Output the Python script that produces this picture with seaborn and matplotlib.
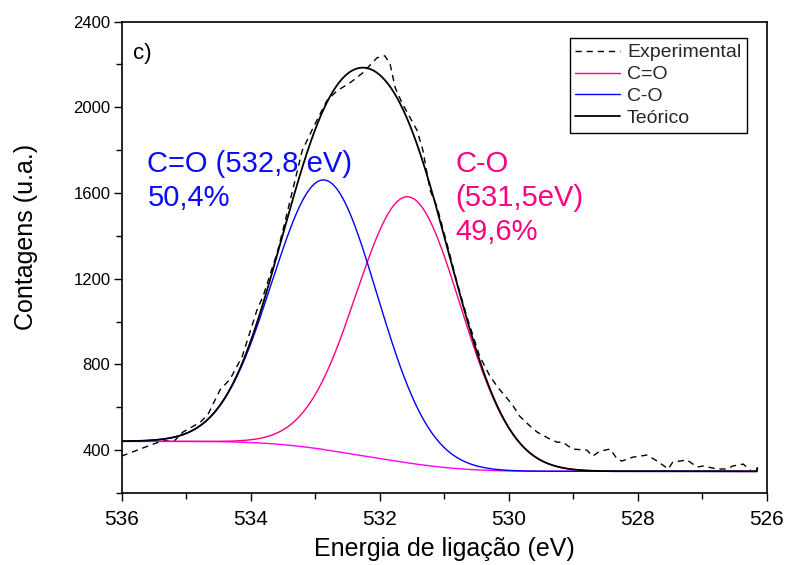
import numpy as np
import pandas as pd
import matplotlib
matplotlib.use("Agg")
import matplotlib.pyplot as plt
import seaborn as sns
from matplotlib.ticker import MultipleLocator

# Measured O 1s spectrum: binding energy (eV) and counts
exp_energy = [536.00, 535.51, 535.33, 535.20, 535.05, 534.78, 534.66, 534.47, 534.32,
              534.13, 533.90, 533.81, 533.59, 533.51, 533.20, 533.03, 532.82, 532.66,
              532.46, 532.26, 532.04, 531.92, 531.84, 531.76, 531.65, 531.53, 531.42,
              531.33, 531.22, 531.11, 530.96, 530.80, 530.65, 530.45, 530.29, 530.17,
              529.95, 529.83, 529.67, 529.56, 529.36, 529.25, 529.16, 529.08, 529.01,
              528.79, 528.70, 528.59, 528.43, 528.32, 528.25, 528.08, 527.86, 527.70,
              527.53, 527.46, 527.24, 527.08, 526.99, 526.77, 526.62, 526.53, 526.37,
              526.26]
exp_counts = [372, 428, 446, 437, 484, 530, 567, 683, 730,
              837, 1055, 1115, 1320, 1413, 1798, 1905, 2030, 2077,
              2114, 2161, 2231, 2240, 2203, 2091, 2017, 1952, 1891,
              1798, 1613, 1534, 1366, 1181, 1023, 837, 744, 693,
              614, 558, 512, 484, 451, 437, 437, 419, 405,
              400, 372, 395, 405, 358, 349, 367, 377, 349,
              312, 344, 354, 321, 326, 312, 312, 326, 335,
              307]

# Fitted components (Gaussian peaks on a Shirley background)
peak_labels = ["C=O", "C-O"]
peak_centers = [531.55, 532.85]
peak_heights = [1242, 1258]
peak_sigmas = [0.81, 0.81]
peak_colors = ["#FF0080", "#0000FF"]
bg_high = 441
bg_low = 301
bg_last = 316
fit_range = (526.15, 536.30)

# Evaluate the fit on a fine energy grid (ascending)
energy = np.linspace(fit_range[0], fit_range[1], 1016)
peaks = [h * np.exp(-(energy - c) ** 2 / (2 * s ** 2))
         for c, h, s in zip(peak_centers, peak_heights, peak_sigmas)]
peak_sum = np.sum(peaks, axis=0)
cum = np.cumsum(peak_sum)
background = bg_low + (bg_high - bg_low) * cum / cum[-1]
background[0] = bg_last
total = background + peak_sum

plt.rcParams["figure.dpi"] = 100
sns.set_theme(style="ticks")
plt.rcParams["font.family"] = ["Liberation Sans", "DejaVu Sans"]

fig = plt.figure(figsize=(7.86, 5.65), dpi=100)
ax = fig.add_axes([121.5 / 786, 1 - 493 / 565, (767 - 121.5) / 786, (493 - 21.5) / 565])

sns.lineplot(x=exp_energy, y=exp_counts, ax=ax, color="black", lw=1.0,
             linestyle=(0, (4.5, 3.5)), estimator=None, sort=False, label="Experimental")
sns.lineplot(x=energy, y=background, ax=ax, color="#FF00FF", lw=1.0,
             estimator=None, sort=False)
sns.lineplot(x=energy, y=background + peaks[0], ax=ax, color=peak_colors[0], lw=1.0,
             estimator=None, sort=False, label=peak_labels[0])
sns.lineplot(x=energy, y=background + peaks[1], ax=ax, color=peak_colors[1], lw=1.0,
             estimator=None, sort=False, label=peak_labels[1])
sns.lineplot(x=energy, y=total, ax=ax, color="black", lw=1.3,
             estimator=None, sort=False, label="Teórico")

ax.set_xlim(536, 526)
ax.set_ylim(200, 2400)
ax.xaxis.set_major_locator(MultipleLocator(2))
ax.xaxis.set_minor_locator(MultipleLocator(1))
ax.yaxis.set_major_locator(MultipleLocator(400))
ax.yaxis.set_minor_locator(MultipleLocator(200))
ax.tick_params(axis="both", which="both", direction="out", colors="black",
               top=False, right=False, width=1.0)
ax.tick_params(axis="both", which="major", length=6)
ax.tick_params(axis="both", which="minor", length=4)
ax.tick_params(axis="x", which="major", pad=6, labelsize=15)
ax.tick_params(axis="y", which="major", pad=2, labelsize=12)
for sp in ax.spines.values():
    sp.set_visible(True)
    sp.set_color("black")
    sp.set_linewidth(1.2)

ax.set_xlabel("Energia de ligação (eV)", fontsize=18, color="black")
ax.set_ylabel("Contagens (u.a.)", fontsize=18, color="black")
ax.xaxis.set_label_coords(0.5, -0.0935)
ax.yaxis.set_label_coords(-0.13, 0.543)

ax.text(535.82, 2298, "c)", fontsize=16, color="black", ha="left", va="top")
ax.text(535.6, 1800, "C=O (532,8 eV)\n50,4%", fontsize=21, color="#0A0AFF",
        ha="left", va="top", linespacing=1.28)
ax.text(530.83, 1800, "C-O\n(531,5eV)\n49,6%", fontsize=21, color="#FF0080",
        ha="left", va="top", linespacing=1.26)

handles, labels = ax.get_legend_handles_labels()
leg = ax.legend(handles, labels, loc="upper right", bbox_to_anchor=(0.969, 0.965),
                borderaxespad=0, fontsize=14, frameon=True, fancybox=False,
                framealpha=1, edgecolor="black", handlelength=2.3,
                handletextpad=0.35, labelspacing=0.22, borderpad=0.3)
leg.get_frame().set_linewidth(1.0)

fig.savefig("out.png", dpi=100)
